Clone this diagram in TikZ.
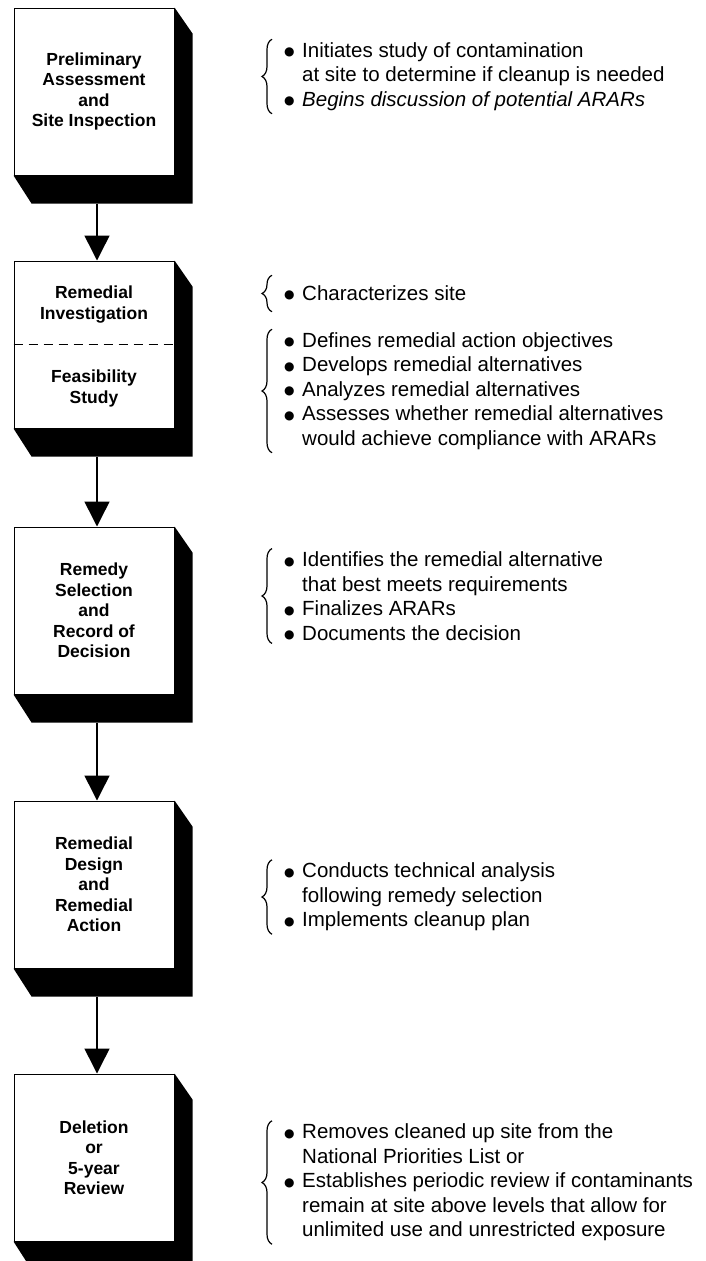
\documentclass[tikz,border=0pt]{standalone}
\usepackage{fontspec}
\setmainfont{Liberation Sans}
\newfontfamily\dotfont{DejaVu Sans}
\usetikzlibrary{arrows.meta,positioning,calc,decorations.pathreplacing}
\newcommand{\bul}{\makebox[18pt][l]{\raisebox{1.5pt}{\dotfont\fontsize{12}{12}\selectfont ●}}}
\newcommand{\ind}{\hspace*{18pt}}

\begin{document}
\begin{tikzpicture}[x=1pt, y=-1pt, >={Triangle[width=25pt,length=25pt]},
  stage/.style={draw, line width=1pt, fill=white, minimum width=160pt, minimum height=167pt, align=center, inner sep=0pt, font=\fontsize{17.5}{20.5}\selectfont\bfseries},
  boxtext/.style={align=center, inner sep=0pt, font=\fontsize{17.5}{21}\selectfont\bfseries},
  notes/.style={anchor=west, align=left, inner sep=0pt, font=\fontsize{20.5}{24.5}\selectfont},
  flow/.style={->, line width=1.5pt},
  brc/.style={decorate, decoration={brace, amplitude=10pt}, line width=1.2pt}]
\useasboundingbox (0,0) rectangle (706,1261);
% ---------------- stages
\node[stage] (pa) at (94,91.5) {Preliminary\\Assessment\\and\\Site Inspection};
\node[stage, below=85pt of pa] (ri) {};
\node[boxtext] (rit) at ([yshift=40pt]ri.center) {Remedial\\Investigation};
\node[boxtext] (fst) at ([yshift=-44pt]ri.center) {Feasibility\\Study};
\node[stage, below=98pt of ri] (rs) {Remedy\\Selection\\and\\Record of\\Decision};
\node[stage, below=106pt of rs] (rd) {Remedial\\Design\\and\\Remedial\\Action};
\node[stage, below=105pt of rd] (dr) {Deletion\\or\\5-year\\Review};
\draw[dashed, dash pattern=on 9pt off 6pt, line width=1pt] (ri.west) -- (ri.east);
% ---------------- block shadows
\foreach \b in {pa,ri,rs,rd,dr}
  \fill (\b.north east) -- ++(18pt,-26pt) |- ([shift={(18pt,-28pt)}]\b.south west) -- (\b.south west) -- (\b.south east) -- cycle;
% ---------------- flow
\draw[flow] ([xshift=3pt,yshift=-28pt]pa.south) -- ([xshift=3pt]ri.north);
\draw[flow] ([xshift=3pt,yshift=-28pt]ri.south) -- ([xshift=3pt]rs.north);
\draw[flow] ([xshift=3pt,yshift=-28pt]rs.south) -- ([xshift=3pt]rd.north);
\draw[flow] ([xshift=3pt,yshift=-28pt]rd.south) -- ([xshift=3pt]dr.north);
% ---------------- notes
\node[notes] (n1) at (284,76.5) {\bul Initiates study of contamination\\ \ind at site to determine if cleanup is needed\\ \bul \textit{Begins discussion of potential ARARs}};
\node[notes] (n2) at (284,293) {\bul Characterizes site};
\node[notes] (n3) at (284,391) {\bul Defines remedial action objectives\\ \bul Develops remedial alternatives\\ \bul Analyzes remedial alternatives\\ \bul Assesses whether remedial alternatives\\ \ind would achieve compliance with ARARs};
\node[notes] (n4) at (284,596) {\bul Identifies the remedial alternative\\ \ind that best meets requirements\\ \bul Finalizes ARARs\\ \bul Documents the decision};
\node[notes] (n5) at (284,897) {\bul Conducts technical analysis\\ \ind following remedy selection\\ \bul Implements cleanup plan};
\node[notes] (n6) at (284,1182.5) {\bul Removes cleaned up site from the\\ \ind National Priorities List or\\ \bul Establishes periodic review if contaminants\\ \ind remain at site above levels that allow for\\ \ind unlimited use and unrestricted exposure};
\foreach \n in {n1,n3,n4,n5,n6}
  \draw[brc] ([xshift=-12pt,yshift=-3pt]\n.south west) -- ([xshift=-12pt,yshift=3pt]\n.north west);
\draw[brc] ([xshift=-12pt,yshift=-11pt]n2.south west) -- ([xshift=-12pt,yshift=10pt]n2.north west);
\end{tikzpicture}
\end{document}
